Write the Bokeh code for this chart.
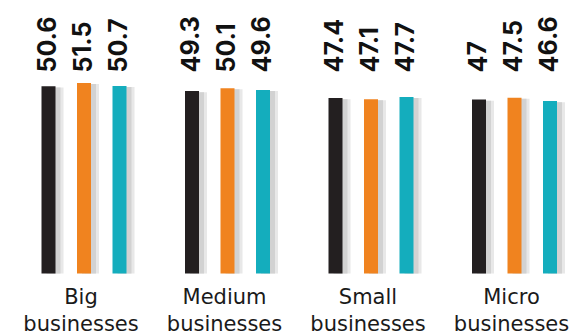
from bokeh.plotting import figure
from bokeh.models import Range1d, ColumnDataSource
from bokeh.core.properties import value
from bokeh.embed import file_html
from bokeh.resources import INLINE

groups_line1 = ["Big", "Medium", "Small", "Micro"]
groups_line2 = ["businesses", "businesses", "businesses", "businesses"]
series_a = [50.6, 49.3, 47.4, 47.0]   # black
series_b = [51.5, 50.1, 47.1, 47.5]   # orange
series_c = [50.7, 49.6, 47.7, 46.6]   # teal
value_labels_a = ["50.6", "49.3", "47.4", "47"]
value_labels_b = ["51.5", "50.1", "47.1", "47.5"]
value_labels_c = ["50.7", "49.6", "47.7", "46.6"]
colors = ["#231f20", "#f0831f", "#14adbd"]

W, H = 579, 336
k = 3.7            # px per unit
base_px = 273      # pixel row of zero
y0 = -(H - base_px) / k
y1 = y0 + H / k

p = figure(width=W, height=H, output_backend="svg", toolbar_location=None,
           x_range=Range1d(0, W), y_range=Range1d(y0, y1), min_border=0)
p.axis.visible = False
p.grid.visible = False
p.outline_line_color = None
p.background_fill_color = "white"
p.border_fill_color = "white"

first_group = 48.0
group_step = 143.5
bar_step = 35.5
bar_w = 14

all_series = [series_a, series_b, series_c]
all_labels = [value_labels_a, value_labels_b, value_labels_c]

for s, (vals, labs) in enumerate(zip(all_series, all_labels)):
    xs = [first_group + g * group_step + s * bar_step for g in range(len(vals))]
    src = ColumnDataSource(dict(x=xs, top=vals, lab=labs,
                                xs1=[x + 5 for x in xs], xs2=[x + 8 for x in xs],
                                xl=[x - 2 for x in xs],
                                yl=[(base_px - 72) / k] * len(vals),
                                tops=[v - 0.3 for v in vals]))
    p.vbar(x="xs2", top="tops", bottom=0, width=bar_w, source=src,
           fill_color="#e8e8e8", line_color=None)
    p.vbar(x="xs1", top="tops", bottom=0, width=bar_w, source=src,
           fill_color="#d2d2d2", line_color=None)
    p.vbar(x="x", top="top", bottom=0, width=bar_w, source=src,
           fill_color=colors[s], line_color=None)
    p.text(x="xl", y="yl", text="lab", source=src, angle=1.5708,
           text_align="left", text_baseline="middle",
           text_font=value("Inter"), text_font_style="bold",
           text_font_size="25px", text_color="#111111")

centers = [first_group + g * group_step + bar_step - 3 for g in range(4)]
lsrc = ColumnDataSource(dict(x=centers, l1=groups_line1, l2=groups_line2,
                             y1=[(base_px - 296) / k] * 4,
                             y2=[(base_px - 323) / k] * 4))
p.text(x="x", y="y1", text="l1", source=lsrc, text_align="center",
       text_baseline="alphabetic", text_font=value("DejaVu Sans"),
       text_font_size="21px", text_color="#1a1a1a")
p.text(x="x", y="y2", text="l2", source=lsrc, text_align="center",
       text_baseline="alphabetic", text_font=value("DejaVu Sans"),
       text_font_size="21px", text_color="#1a1a1a")

open("out.html", "w").write(file_html(p, INLINE))
